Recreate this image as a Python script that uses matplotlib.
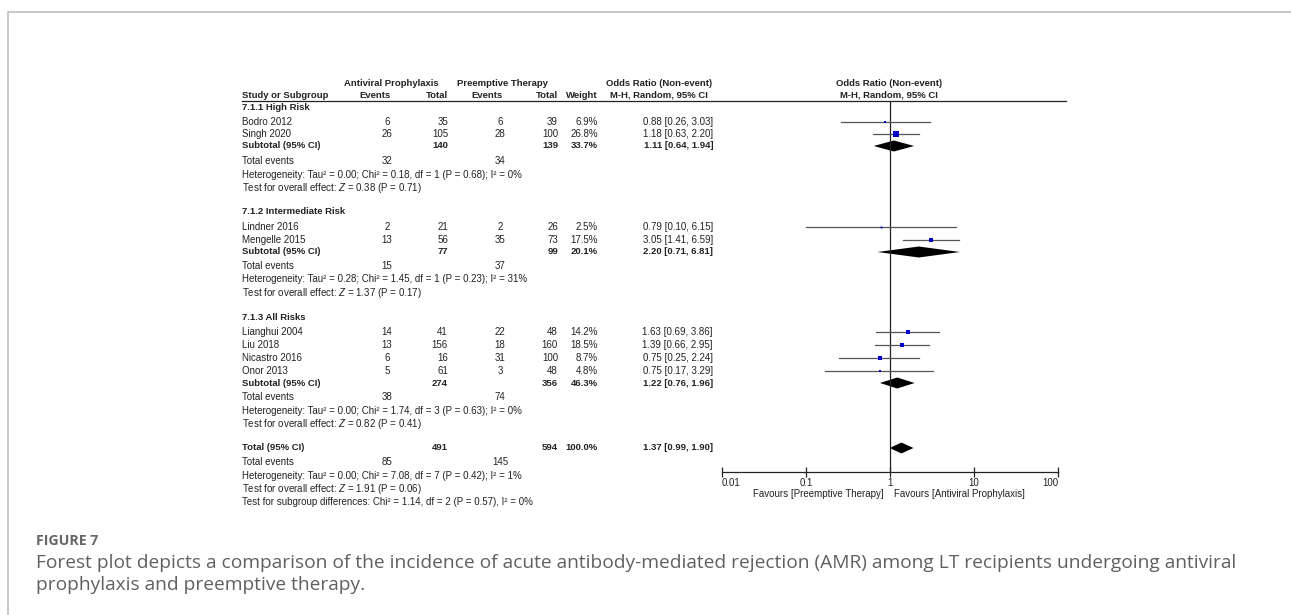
import numpy as np
import matplotlib
matplotlib.use('Agg')
import matplotlib.pyplot as plt

# ## Forest plot: antiviral prophylaxis vs preemptive therapy (AMR)

studies = ['Bodro 2012', 'Singh 2020',
           'Lindner 2016', 'Mengelle 2015',
           'Lianghui 2004', 'Liu 2018', 'Nicastro 2016', 'Onor 2013']
ap_events = [6, 26, 2, 13, 14, 13, 6, 5]
ap_total = [35, 105, 21, 56, 41, 156, 16, 61]
pt_events = [6, 28, 2, 35, 22, 18, 31, 3]
pt_total = [39, 100, 26, 73, 48, 160, 100, 48]
weights = [6.9, 26.8, 2.5, 17.5, 14.2, 18.5, 8.7, 4.8]
odds = [0.88, 1.18, 0.79, 3.05, 1.63, 1.39, 0.75, 0.75]
ci_low = [0.26, 0.63, 0.10, 1.41, 0.69, 0.66, 0.25, 0.17]
ci_high = [3.03, 2.20, 6.15, 6.59, 3.86, 2.95, 2.24, 3.29]

groups = ['7.1.1 High Risk', '7.1.2 Intermediate Risk', '7.1.3 All Risks']
sub_ap_total = [140, 77, 274]
sub_pt_total = [139, 99, 356]
sub_weight = ['33.7%', '20.1%', '46.3%']
sub_or = [1.11, 2.20, 1.22]
sub_low = [0.64, 0.71, 0.76]
sub_high = [1.94, 6.81, 1.96]
sub_ap_events = [32, 15, 38]
sub_pt_events = [34, 37, 74]
sub_het = ['Heterogeneity: Tau\u00b2 = 0.00; Chi\u00b2 = 0.18, df = 1 (P = 0.68); I\u00b2 = 0%',
           'Heterogeneity: Tau\u00b2 = 0.28; Chi\u00b2 = 1.45, df = 1 (P = 0.23); I\u00b2 = 31%',
           'Heterogeneity: Tau\u00b2 = 0.00; Chi\u00b2 = 1.74, df = 3 (P = 0.63); I\u00b2 = 0%']
sub_test = ['Test for overall effect: $Z$ = 0.38 (P = 0.71)',
            'Test for overall effect: $Z$ = 1.37 (P = 0.17)',
            'Test for overall effect: $Z$ = 0.82 (P = 0.41)']

total_ap, total_pt = 491, 594
total_or, total_low, total_high = 1.37, 0.99, 1.90
total_ap_events, total_pt_events = 85, 145
total_lines = ['Heterogeneity: Tau\u00b2 = 0.00; Chi\u00b2 = 7.08, df = 7 (P = 0.42); I\u00b2 = 1%',
               'Test for overall effect: $Z$ = 1.91 (P = 0.06)',
               'Test for subgroup differences: Chi\u00b2 = 1.14, df = 2 (P = 0.57), I\u00b2 = 0%']

xticks = [0.01, 0.1, 1, 10, 100]
xtick_labels = ['0.01', '0.1', '1', '10', '100']

# row layout (pixel rows of the 1291x615 figure)
study_rows = [122, 134, 227, 240, 332, 345, 358, 371]
group_rows = [107, 212, 317]
sub_rows = [146, 252, 383]
events_rows = [161, 266, 397]
het_rows = [175, 279, 411]
test_rows = [188, 293, 424]
total_rows = [448, 462, 476, 489, 502]

W, H = 1291, 615
FONT = 'Liberation Sans'
FS = 7.0
FSB = 6.8

plt.rcParams['mathtext.fontset'] = 'custom'
plt.rcParams['mathtext.it'] = 'Liberation Sans:italic'
plt.rcParams['mathtext.rm'] = 'Liberation Sans'

fig = plt.figure(figsize=(W / 100, H / 100), dpi=100)
ax = fig.add_axes([0, 0, 1, 1])
ax.set_xlim(0, W)
ax.set_ylim(H, 0)
ax.axis('off')

# outer frame
ax.plot([7.5, 7.5, W], [H, 11.5, 11.5], color='#c4c4c4', lw=1.3, solid_capstyle='butt')

# columns
X_LAB = 242
X_APE, X_APT = 387, 448
X_PTE, X_PTT = 500, 558
X_W = 598
X_OR = 713


def t(x, y, s, ha='left', bold=False, **kw):
    ax.text(x, y, s, ha=ha, va='center', fontsize=FSB if bold else FS, family=FONT,
            fontweight='bold' if bold else 'normal', color='#222222', **kw)


# headers
t(391, 84, 'Antiviral Prophylaxis', ha='center', bold=True)
t(502, 84, 'Preemptive Therapy', ha='center', bold=True)
t(659, 84, 'Odds Ratio (Non-event)', ha='center', bold=True)
t(889, 84, 'Odds Ratio (Non-event)', ha='center', bold=True)
t(X_LAB, 95, 'Study or Subgroup', bold=True)
t(375, 95, 'Events', ha='center', bold=True)
t(X_APT, 95, 'Total', ha='right', bold=True)
t(487, 95, 'Events', ha='center', bold=True)
t(X_PTT, 95, 'Total', ha='right', bold=True)
t(X_W, 95, 'Weight', ha='right', bold=True)
t(659, 95, 'M-H, Random, 95% CI', ha='center', bold=True)
t(889, 95, 'M-H, Random, 95% CI', ha='center', bold=True)
ax.plot([X_LAB, 1066], [101, 101], color='#222222', lw=0.9)

for i, name in enumerate(studies):
    y = study_rows[i]
    t(X_LAB, y, name)
    t(X_APE, y, str(ap_events[i]), ha='center')
    t(X_APT, y, str(ap_total[i]), ha='right')
    t(X_PTE, y, str(pt_events[i]), ha='center')
    t(X_PTT, y, str(pt_total[i]), ha='right')
    t(X_W, y, f'{weights[i]:.1f}%', ha='right')
    t(X_OR, y, f'{odds[i]:.2f} [{ci_low[i]:.2f}, {ci_high[i]:.2f}]', ha='right')

for g, name in enumerate(groups):
    t(X_LAB, group_rows[g], name, bold=True)
    y = sub_rows[g]
    t(X_LAB, y, 'Subtotal (95% CI)', bold=True)
    t(X_APT, y, str(sub_ap_total[g]), ha='right', bold=True)
    t(X_PTT, y, str(sub_pt_total[g]), ha='right', bold=True)
    t(X_W, y, sub_weight[g], ha='right', bold=True)
    t(X_OR, y, f'{sub_or[g]:.2f} [{sub_low[g]:.2f}, {sub_high[g]:.2f}]', ha='right', bold=True)
    t(X_LAB, events_rows[g], 'Total events')
    t(X_APE, events_rows[g], str(sub_ap_events[g]), ha='center')
    t(X_PTE, events_rows[g], str(sub_pt_events[g]), ha='center')
    t(X_LAB, het_rows[g], sub_het[g])
    t(X_LAB, test_rows[g], sub_test[g])

y = total_rows[0]
t(X_LAB, y, 'Total (95% CI)', bold=True)
t(X_APT, y, str(total_ap), ha='right', bold=True)
t(X_PTT, y, str(total_pt), ha='right', bold=True)
t(X_W, y, '100.0%', ha='right', bold=True)
t(X_OR, y, f'{total_or:.2f} [{total_low:.2f}, {total_high:.2f}]', ha='right', bold=True)
t(X_LAB, total_rows[1], 'Total events')
t(X_APE, total_rows[1], str(total_ap_events), ha='center')
t(X_PTE, total_rows[1], str(total_pt_events), ha='center')
for k, line in enumerate(total_lines):
    t(X_LAB, total_rows[2 + k], line)

# forest panel: log axis 0.01..100 between pixel columns 722 and 1058
AX_L, AX_R, AX_T, AX_B = 722, 1058, 101, 472
axf = fig.add_axes([AX_L / W, 1 - AX_B / H, (AX_R - AX_L) / W, (AX_B - AX_T) / H])
axf.patch.set_alpha(0)
axf.set_xscale('log')
axf.set_xlim(0.01, 100)
axf.set_ylim(AX_B, AX_T)
for s in ['top', 'left', 'right']:
    axf.spines[s].set_visible(False)
axf.spines['bottom'].set_linewidth(0.9)
axf.spines['bottom'].set_color('#222222')
axf.set_yticks([])
axf.set_xticks(xticks)
axf.set_xticklabels(xtick_labels, family=FONT, fontsize=FS)
axf.minorticks_off()
axf.tick_params(axis='x', direction='inout', length=7, width=0.9, pad=1, colors='#222222')
labs = axf.get_xticklabels()
labs[0].set_ha('left')
labs[-1].set_ha('right')
axf.axvline(1, color='#222222', lw=0.9)

for i in range(len(studies)):
    y = study_rows[i]
    axf.plot([ci_low[i], ci_high[i]], [y, y], color='#555555', lw=0.9)
    axf.plot(odds[i], y, 's', color='#0000cc', mec='#0000cc',
             markersize=np.sqrt(weights[i]) * 0.82, mew=0)

diamond_h = 5.5
for g in range(len(groups)):
    y = sub_rows[g]
    axf.fill([sub_low[g], sub_or[g], sub_high[g], sub_or[g]],
             [y, y - diamond_h, y, y + diamond_h], color='black', lw=0)
y = total_rows[0]
axf.fill([total_low, total_or, total_high, total_or],
         [y, y - diamond_h, y, y + diamond_h], color='black', lw=0)

t(884, 494, 'Favours [Preemptive Therapy]', ha='right')
t(894, 494, 'Favours [Antiviral Prophylaxis]', ha='left')

# caption
CAP = ['Open Sans', 'DejaVu Sans']
ax.text(36, 541, 'FIGURE 7', ha='left', va='center', fontsize=10.2, family=CAP,
        fontweight='bold', color='#666666')
ax.text(36, 563, 'Forest plot depicts a comparison of the incidence of acute antibody-mediated '
        'rejection (AMR) among LT recipients undergoing antiviral',
        ha='left', va='center', fontsize=13.8, family=CAP, color='#606060')
ax.text(36, 585, 'prophylaxis and preemptive therapy.',
        ha='left', va='center', fontsize=13.8, family=CAP, color='#606060')

fig.savefig('out.png', dpi=100)
